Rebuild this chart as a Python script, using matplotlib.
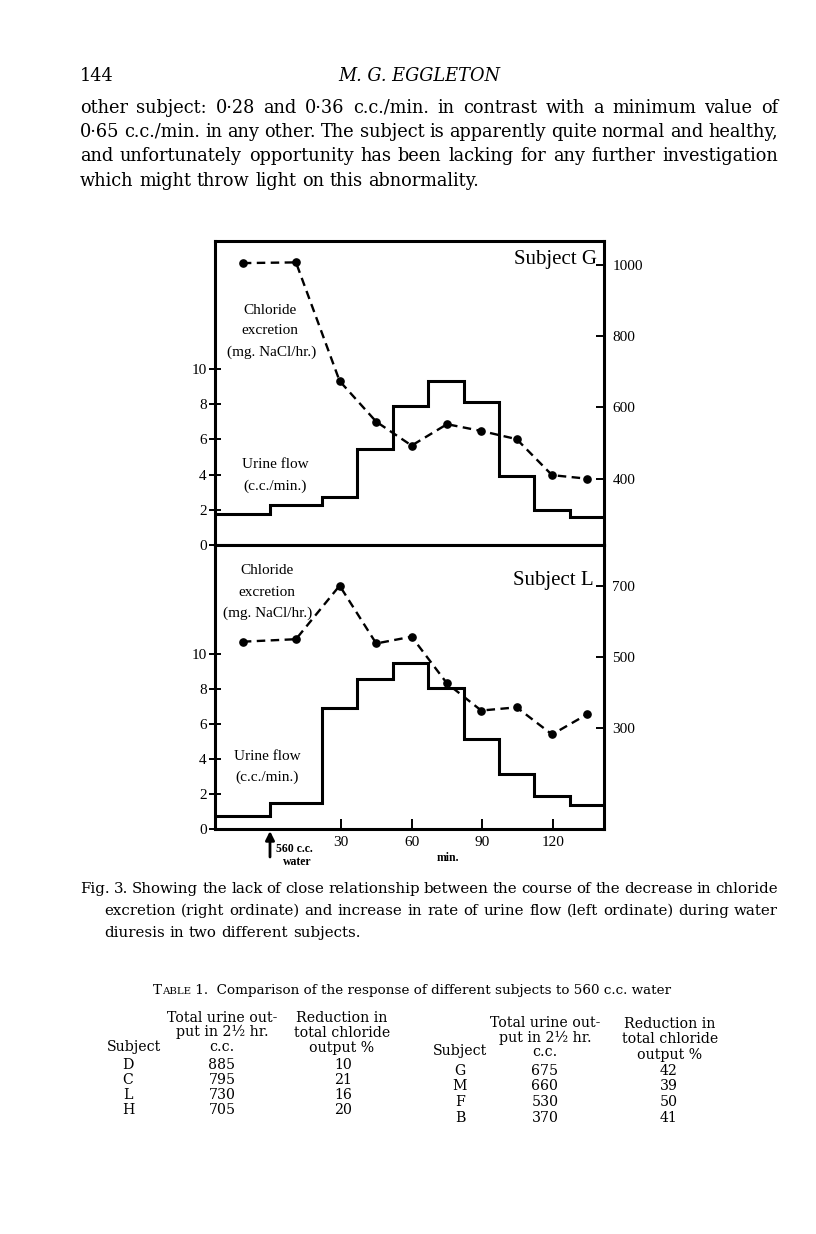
import matplotlib
matplotlib.use('Agg')
import matplotlib.pyplot as plt

# ---------------- data ----------------
period_edges = [-23.3, 0, 22, 37, 52, 67, 82, 97, 112, 127, 141.5]   # min
sample_times = [-11.5, 11, 29.5, 45, 60, 75, 89.5, 104.5, 119.5, 134.5]

urine_G = [1.75, 2.27, 2.71, 5.45, 7.92, 9.32, 8.14, 3.94, 1.99, 1.57]
chloride_G = [1005, 1007, 674, 560, 493, 553, 534, 511, 410, 400]

urine_L = [0.76, 1.48, 6.93, 8.58, 9.49, 8.03, 5.16, 3.13, 1.90, 1.39]
chloride_L = [543, 550, 700, 538, 557, 426, 350, 359, 283, 340]

left_ticks = [0, 2, 4, 6, 8, 10]
right_ticks_G = [400, 600, 800, 1000]
right_ticks_L = [300, 500, 700]
x_ticks = [30, 60, 90, 120]

table_left_subject = ['D', 'C', 'L', 'H']
table_left_urine = ['885', '795', '730', '705']
table_left_reduction = ['10', '21', '16', '20']
table_right_subject = ['G', 'M', 'F', 'B']
table_right_urine = ['675', '660', '530', '370']
table_right_reduction = ['42', '39', '50', '41']

body_lines = [
    "other subject: 0·28 and 0·36 c.c./min. in contrast with a minimum value of",
    "0·65 c.c./min. in any other. The subject is apparently quite normal and healthy,",
    "and unfortunately opportunity has been lacking for any further investigation",
    "which might throw light on this abnormality.",
]
caption_lines = [
    "Fig. 3. Showing the lack of close relationship between the course of the decrease in chloride",
    "excretion (right ordinate) and increase in rate of urine flow (left ordinate) during water",
    "diuresis in two different subjects.",
]

# ---------------- figure ----------------
W, H = 816, 1234
fig = plt.figure(figsize=(W / 100, H / 100), dpi=100)
fig.patch.set_facecolor('white')


def fx(x):
    return x / W


def fy(y):
    return 1 - y / H


PAGE = ['DejaVu Serif']
CHART = ['Liberation Serif', 'DejaVu Serif']

renderer = fig.canvas.get_renderer()


def justified(text, x0, x1, y, justify=True, **kw):
    words = text.split(' ')
    objs = [fig.text(0, 0, w, va='center', ha='left', **kw) for w in words]
    widths = [o.get_window_extent(renderer).width for o in objs]
    if justify and len(words) > 1:
        gap = (x1 - x0 - sum(widths)) / (len(words) - 1)
    else:
        sp = fig.text(0, 0, 'a a', **kw)
        sp2 = fig.text(0, 0, 'aa', **kw)
        gap = sp.get_window_extent(renderer).width - sp2.get_window_extent(renderer).width
        sp.remove(); sp2.remove()
    x = x0
    for o, w in zip(objs, widths):
        o.set_position((fx(x), fy(y)))
        x += w + gap


# header
fig.text(fx(80), fy(76), "144", family=PAGE, fontsize=12.8, va='center', ha='left')
fig.text(fx(419), fy(76), "M. G. EGGLETON", family=PAGE, fontsize=12.8, style='italic',
         va='center', ha='center')

body_y = [108, 132, 156, 181]
for i, (ln, yy) in enumerate(zip(body_lines, body_y)):
    justified(ln, 80, 778, yy, justify=(i < len(body_lines) - 1), family=PAGE, fontsize=12.8)

# ---------------- chart ----------------
xlim = (period_edges[0], period_edges[-1])
LW = 2.2
dash = (0, (3.6, 2.3))

ax_g = fig.add_axes([fx(215), fy(545), (604 - 215) / W, (545 - 241) / H])
ax_l = fig.add_axes([fx(215), fy(829), (604 - 215) / W, (829 - 545) / H])

panels = [
    (ax_g, urine_G, chloride_G, (0, 17.27), (214, 1067), right_ticks_G),
    (ax_l, urine_L, chloride_L, (0, 16.23), (18, 814), right_ticks_L),
]
for ax, urine, chl, ylim_l, ylim_r, rticks in panels:
    ax.set_xlim(*xlim)
    ax.set_ylim(*ylim_l)
    ax.stairs(urine, period_edges, baseline=None, color='black', lw=LW)
    for s in ax.spines.values():
        s.set_linewidth(LW)
    ax.set_yticks(left_ticks)
    ax.tick_params(axis='y', direction='inout', length=8, width=1.4, pad=2, labelsize=11)
    for lab in ax.get_yticklabels():
        lab.set_family(CHART)
    axr = ax.twinx()
    axr.set_ylim(*ylim_r)
    axr.plot(sample_times, chl, color='black', lw=1.7, ls=dash, marker='o', ms=5.2)
    for s in axr.spines.values():
        s.set_visible(False)
    axr.set_yticks(rticks)
    axr.tick_params(axis='y', direction='in', length=6, width=1.4, pad=6, labelsize=11)
    for lab in axr.get_yticklabels():
        lab.set_family(CHART)

ax_g.set_xticks([])
ax_l.set_xticks(x_ticks)
ax_l.tick_params(axis='x', direction='in', length=7, width=1.4, pad=5, labelsize=11)
for lab in ax_l.get_xticklabels():
    lab.set_family(CHART)

# chart annotations
fig.text(fx(555), fy(260), "Subject G", family=CHART, fontsize=15, ha='center', va='center')
fig.text(fx(553), fy(580), "Subject L", family=CHART, fontsize=15, ha='center', va='center')
for txt, xx, yy in [("Chloride", 270, 310), ("excretion", 270, 331), ("(mg. NaCl/hr.)", 272, 352),
                    ("Urine flow", 275, 465), ("(c.c./min.)", 275, 486),
                    ("Chloride", 267, 571), ("excretion", 267, 592), ("(mg. NaCl/hr.)", 268, 613),
                    ("Urine flow", 267, 756), ("(c.c./min.)", 267, 777)]:
    fig.text(fx(xx), fy(yy), txt, family=CHART, fontsize=11, ha='center', va='center')

ax_l.annotate('', xy=(0, fy(831)), xytext=(0, fy(857)), xycoords=('data', 'figure fraction'),
              textcoords=('data', 'figure fraction'), annotation_clip=False,
              arrowprops=dict(arrowstyle='-|>', color='black', lw=2.0, mutation_scale=13,
                              shrinkA=0, shrinkB=0))
fig.text(fx(276), fy(849), "560 c.c.", family=CHART, fontsize=8.5, weight='bold', ha='left', va='center')
fig.text(fx(297), fy(862), "water", family=CHART, fontsize=8.5, weight='bold', ha='center', va='center')
fig.text(fx(448), fy(858), "min.", family=CHART, fontsize=8.5, weight='bold', ha='center', va='center')

# ---------------- caption ----------------
cap_y = [889, 911, 933]
justified(caption_lines[0], 80, 778, cap_y[0], family=PAGE, fontsize=10.8)
justified(caption_lines[1], 104, 778, cap_y[1], family=PAGE, fontsize=10.8)
justified(caption_lines[2], 104, 778, cap_y[2], justify=False, family=PAGE, fontsize=10.8)

# ---------------- table ----------------
parts = [("T", 9.7), ("ABLE", 7.4), (" 1.  Comparison of the response of different subjects to 560 c.c. water", 9.7)]
x = 153
for s, fs in parts:
    t = fig.text(fx(x), fy(994), s, family=PAGE, fontsize=fs, ha='left', va='baseline')
    x += t.get_window_extent(renderer).width

TF = 10.2
def tcell(x, y, s):
    fig.text(fx(x), fy(y), s, family=PAGE, fontsize=TF, ha='center', va='center')

for s, y in [("Total urine out-", 1018), ("put in 2½ hr.", 1032), ("c.c.", 1047)]:
    tcell(222, y, s)
for s, y in [("Reduction in", 1018), ("total chloride", 1033), ("output %", 1048)]:
    tcell(342, y, s)
tcell(134, 1047, "Subject")
for s, y in [("Total urine out-", 1023), ("put in 2½ hr.", 1038), ("c.c.", 1052)]:
    tcell(545, y, s)
for s, y in [("Reduction in", 1024), ("total chloride", 1039), ("output %", 1055)]:
    tcell(670, y, s)
tcell(460, 1051, "Subject")

left_rows_y = [1065, 1080, 1095, 1110]
right_rows_y = [1071, 1086, 1102, 1118]
for s, u, r, y in zip(table_left_subject, table_left_urine, table_left_reduction, left_rows_y):
    tcell(128, y, s); tcell(222, y, u); tcell(343, y, r)
for s, u, r, y in zip(table_right_subject, table_right_urine, table_right_reduction, right_rows_y):
    tcell(460, y, s); tcell(545, y, u); tcell(669, y, r)

fig.savefig('out.png', dpi=100, facecolor='white')
